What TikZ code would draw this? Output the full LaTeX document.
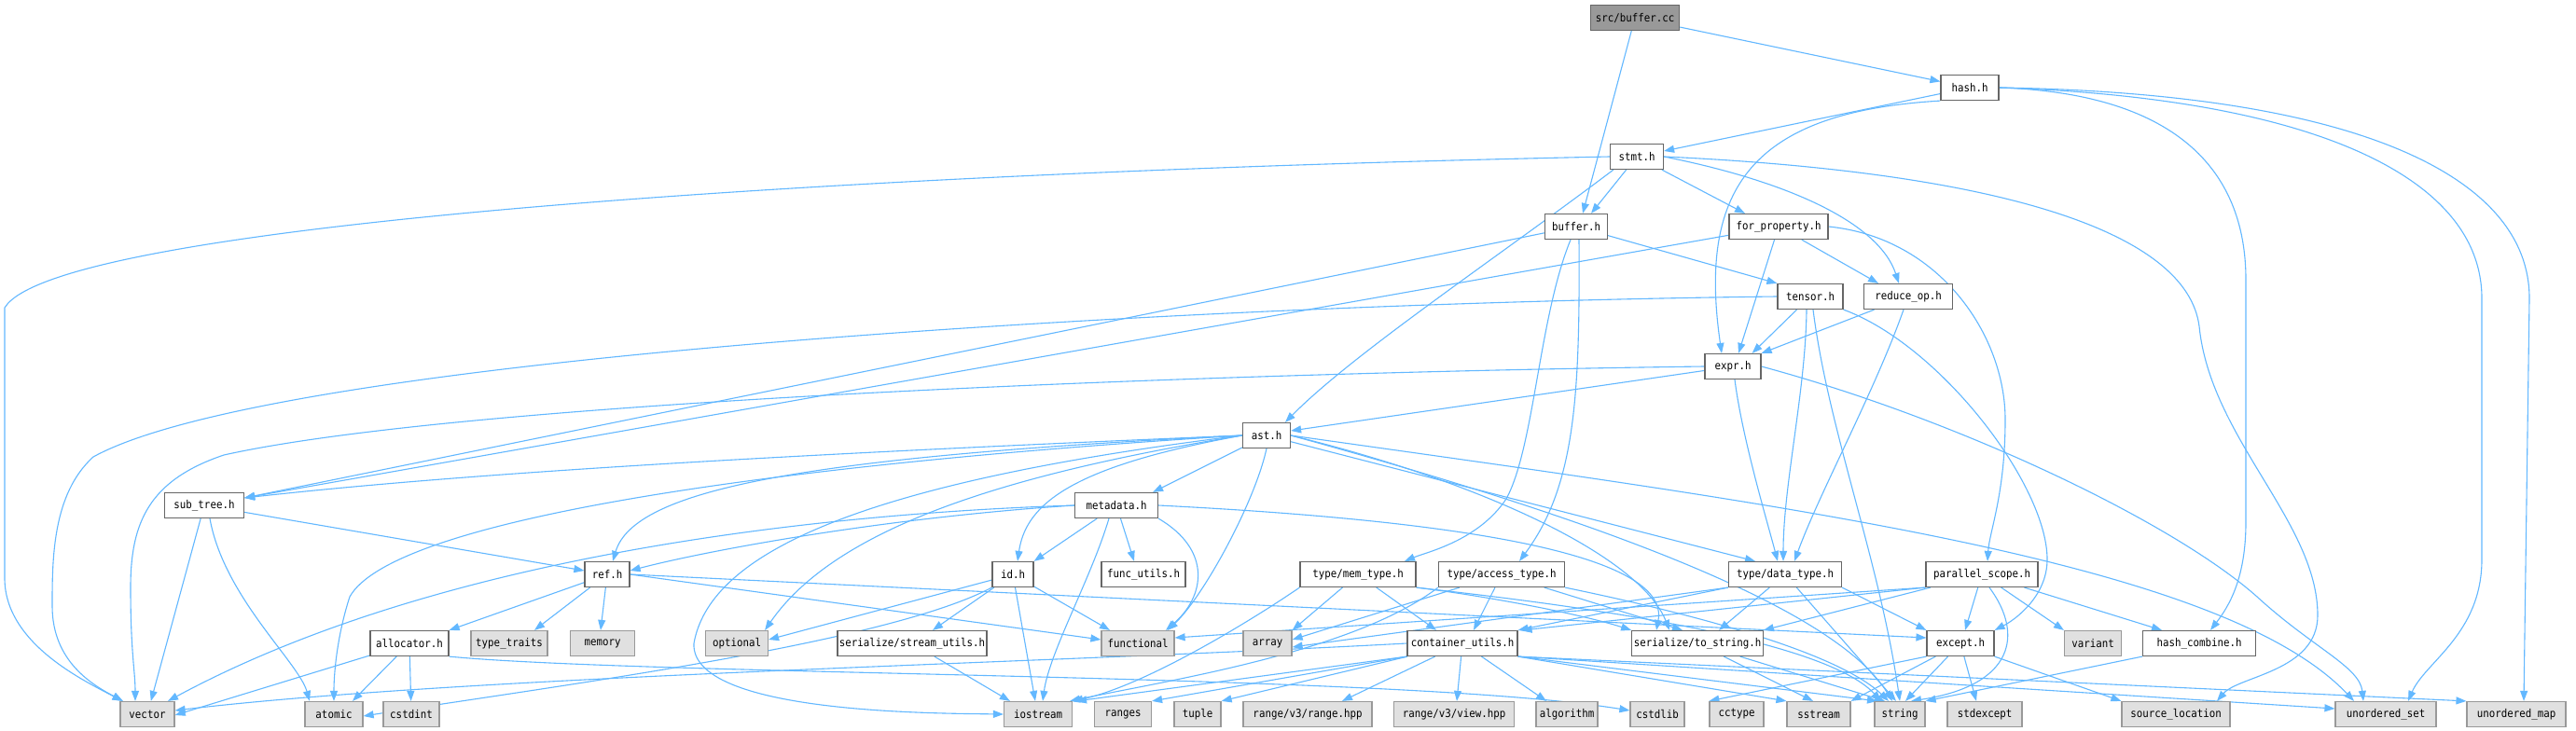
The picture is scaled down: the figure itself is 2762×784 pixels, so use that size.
\documentclass[tikz,border=0pt]{standalone}
\usepackage{fontspec}
\setmainfont{DejaVu Sans Mono}[FakeStretch=0.9]
\usetikzlibrary{arrows.meta}

\definecolor{edgeblue}{HTML}{63B8FF}
\definecolor{boxline}{HTML}{666666}
\definecolor{sysline}{HTML}{999999}
\definecolor{sysfill}{HTML}{E0E0E0}
\definecolor{srcfill}{HTML}{999999}

\pgfdeclarelayer{edgelayer}
\pgfsetlayers{edgelayer,main}

\begin{document}
\begin{tikzpicture}[
  x=1pt, y=-1pt,
  font=\fontsize{12}{14}\selectfont,
  box/.style={draw=boxline, fill=white, line width=1.2pt, minimum height=27pt, inner sep=2pt},
  sysbox/.style={box, draw=sysline, fill=sysfill},
  srcbox/.style={box, fill=srcfill},
  arr/.style={draw=edgeblue, line width=1.1pt, -{Triangle[length=11pt,width=8pt]}},
]
\useasboundingbox (0,0) rectangle (2762,784);

% headers of the project
\node[srcbox, minimum width=95pt]  (buffercc)   at (1753,19)  {src/buffer.cc};
\node[box, minimum width=62pt]     (hash)       at (2112,94)  {hash.h};
\node[box, minimum width=57pt]     (stmt)       at (1755,168) {stmt.h};
\node[box, minimum width=67pt]     (buffer)     at (1690,243) {buffer.h};
\node[box, minimum width=106pt]    (forprop)    at (1907,243) {for\_property.h};
\node[box, minimum width=70pt]     (tensor)     at (1941,318) {tensor.h};
\node[box, minimum width=95pt]     (reduceop)   at (2046,318) {reduce\_op.h};
\node[box, minimum width=60pt]     (expr)       at (1858,393) {expr.h};
\node[box, minimum width=51pt]     (ast)        at (1358,467) {ast.h};
\node[box, minimum width=85pt]     (subtree)    at (219,542)  {sub\_tree.h};
\node[box, minimum width=89pt]     (metadata)   at (1197,542) {metadata.h};
\node[box, minimum width=48pt]     (ref)        at (651,616)  {ref.h};
\node[box, minimum width=44pt]     (id)         at (1086,616) {id.h};
\node[box, minimum width=90pt]     (funcutils)  at (1226,616) {func\_utils.h};
\node[box, minimum width=124pt]    (memtype)    at (1456,616) {type/mem\_type.h};
\node[box, minimum width=135pt]    (accesstype) at (1610,616) {type/access\_type.h};
\node[box, minimum width=121pt]    (datatype)   at (1914,616) {type/data\_type.h};
\node[box, minimum width=120pt]    (parscope)   at (2125,616) {parallel\_scope.h};
\node[box, minimum width=84pt]     (allocator)  at (439,690)  {allocator.h};
\node[box, minimum width=156pt]    (streamutils) at (978,690) {serialize/stream\_utils.h};
\node[box, minimum width=118pt]    (contutils)  at (1568,690) {container\_utils.h};
\node[box, minimum width=136pt]    (tostring)   at (1820,690) {serialize/to\_string.h};
\node[box, minimum width=72pt]     (except)     at (2102,690) {except.h};
\node[box, minimum width=121pt]    (hashcomb)   at (2358,690) {hash\_combine.h};

% system headers
\node[sysbox, minimum width=82pt]  (typetraits) at (546,690)  {type\_traits};
\node[sysbox, minimum width=69pt]  (memory)     at (646,690)  {memory};
\node[sysbox, minimum width=67pt]  (optional)   at (790,690)  {optional};
\node[sysbox, minimum width=78pt]  (functional) at (1220,690) {functional};
\node[sysbox, minimum width=52pt]  (array)      at (1359,690) {array};
\node[sysbox, minimum width=61pt]  (variant)    at (2244,690) {variant};
\node[sysbox, minimum width=58pt]  (vector)     at (158,766)  {vector};
\node[sysbox, minimum width=62pt]  (atomic)     at (358,766)  {atomic};
\node[sysbox, minimum width=60pt]  (cstdint)    at (441,766)  {cstdint};
\node[sysbox, minimum width=73pt]  (iostream)   at (1113,766) {iostream};
\node[sysbox, minimum width=61pt]  (ranges)     at (1204,766) {ranges};
\node[sysbox, minimum width=50pt]  (tuple)      at (1284,766) {tuple};
\node[sysbox, minimum width=138pt] (rangehpp)   at (1402,766) {range/v3/range.hpp};
\node[sysbox, minimum width=129pt] (viewhpp)    at (1559,766) {range/v3/view.hpp};
\node[sysbox, minimum width=66pt]  (algorithm)  at (1680,766) {algorithm};
\node[sysbox, minimum width=58pt]  (cstdlib)    at (1777,766) {cstdlib};
\node[sysbox, minimum width=58pt]  (cctype)     at (1862,766) {cctype};
\node[sysbox, minimum width=68pt]  (sstream)    at (1950,766) {sstream};
\node[sysbox, minimum width=54pt]  (string)     at (2037,766) {string};
\node[sysbox, minimum width=80pt]  (stdexcept)  at (2128,766) {stdexcept};
\node[sysbox, minimum width=116pt] (sourceloc)  at (2333,766) {source\_location};
\node[sysbox, minimum width=108pt] (uset)       at (2558,766) {unordered\_set};
\node[sysbox, minimum width=106pt] (umap)       at (2698,766) {unordered\_map};

\begin{pgfonlayer}{edgelayer}
\fill[white] (0,0) rectangle (2762,784);

% src/buffer.cc
\draw[arr] (buffercc) -- ([xshift=7pt]buffer.north);
\draw[arr] (buffercc) -- (hash);

% hash.h
\draw[arr] (hash) -- (stmt);
\draw[arr] (hash.south west) .. controls (1880,120) and (1820,200) .. ([xshift=-12pt]expr.north);
\draw[arr] (hash.east) .. controls (2330,100) and (2408,180) .. (2408,300) -- (2408,560) .. controls (2408,620) and (2390,650) .. ([xshift=12pt]hashcomb.north);
\draw[arr] (hash.east) .. controls (2480,105) and (2661,190) .. (2661,320) -- (2661,600) .. controls (2661,680) and (2600,710) .. ([xshift=24pt]uset.north);
\draw[arr] (hash.east) .. controls (2530,100) and (2712,190) .. (2712,320) -- ([xshift=8pt]umap.north);

% stmt.h
\draw[arr] (stmt) -- ([xshift=16pt]buffer.north);
\draw[arr] (stmt) -- ([xshift=-36pt]forprop.north);
\draw[arr] (stmt.east) .. controls (1920,195) and (2015,240) .. ([xshift=-10pt]reduceop.north);
\draw[arr] ([xshift=4pt]stmt.south west) .. controls (1600,280) and (1450,380) .. ([xshift=20pt]ast.north);
\draw[arr] (stmt.west) .. controls (900,185) and (60,240) .. (5,330) -- (5,620) .. controls (5,690) and (90,730) .. ([xshift=3pt]vector.north west);
\draw[arr] (stmt.east) .. controls (2150,185) and (2345,250) .. (2358,350) .. controls (2370,470) and (2485,560) .. (2485,660) .. controls (2485,720) and (2400,725) .. ([xshift=44pt]sourceloc.north);

% buffer.h
\draw[arr] (buffer) -- (tensor.north west);
\draw[arr] ([xshift=-6pt]buffer.south) .. controls (1650,340) and (1645,480) .. (1615,535) .. controls (1585,580) and (1530,592) .. ([xshift=50pt]memtype.north);
\draw[arr] ([xshift=3pt]buffer.south) .. controls (1694,420) and (1690,520) .. ([xshift=19pt]accesstype.north);
\draw[arr] (buffer) -- ([yshift=8pt]subtree.east);

% for_property.h
\draw[arr] (forprop) -- ([xshift=6pt]expr.north);
\draw[arr] (forprop) -- ([xshift=-32pt]reduceop.north);
\draw[arr] (forprop.east) .. controls (2080,255) and (2150,360) .. (2150,450) .. controls (2150,530) and (2133,570) .. ([xshift=6pt]parscope.north);
\draw[arr] (forprop) -- ([yshift=8pt]subtree.east);

% tensor.h
\draw[arr] (tensor) -- ([xshift=-10pt]expr.north east);
\draw[arr] ([xshift=-4pt]tensor.south) .. controls (1936,420) and (1912,520) .. ([xshift=-2pt]datatype.north);
\draw[arr] (tensor.west) .. controls (1300,325) and (300,380) .. (100,490) .. controls (56,530) and (56,600) .. (56,650) .. controls (56,710) and (100,735) .. ([xshift=-26pt]vector.north);
\draw[arr] (tensor.south east) .. controls (2080,370) and (2195,520) .. (2195,600) .. controls (2195,640) and (2160,665) .. (except.north east);
\draw[arr] ([xshift=3pt]tensor.south) .. controls (1960,460) and (2015,600) .. (string.north);

% reduce_op.h
\draw[arr] (reduceop) -- (expr.north east);
\draw[arr] ([xshift=-5pt]reduceop.south) .. controls (2010,420) and (1950,530) .. ([xshift=10pt]datatype.north);

% expr.h
\draw[arr] (expr) -- ([yshift=5pt]ast.east);
\draw[arr] ([xshift=2pt]expr.south) .. controls (1868,470) and (1895,560) .. ([xshift=-8pt]datatype.north);
\draw[arr] (expr.west) .. controls (1300,400) and (500,430) .. (240,488) .. controls (160,515) and (140,560) .. (140,630) .. controls (140,700) and (145,720) .. ([xshift=-13pt]vector.north);
\draw[arr] (expr.east) .. controls (2100,450) and (2330,560) .. (2420,640) .. controls (2480,695) and (2530,715) .. ([xshift=-24pt]uset.north);

% ast.h
\draw[arr] (ast.west) .. controls (900,485) and (520,505) .. ([yshift=8pt]subtree.east);
\draw[arr] (ast) -- ([xshift=-6pt]metadata.north east);
\draw[arr] (ast.west) .. controls (860,490) and (680,525) .. ([xshift=6pt]ref.north);
\draw[arr] (ast.west) .. controls (1150,500) and (1100,540) .. ([xshift=5pt]id.north);
\draw[arr] (ast.south) .. controls (1345,540) and (1290,640) .. ([xshift=32pt]functional.north);
\draw[arr] (ast.west) .. controls (1100,505) and (900,560) .. ([xshift=-4pt]optional.north east);
\draw[arr] (ast.west) .. controls (800,500) and (420,560) .. (375,640) .. controls (362,680) and (358,720) .. (atomic.north);
\draw[arr] (ast.west) .. controls (900,520) and (760,600) .. (744,690) .. controls (740,765) and (1000,765) .. (iostream.west);
\draw[arr] (ast) -- ([xshift=-32pt]datatype.north);
\draw[arr] (ast.east) .. controls (1600,520) and (1760,600) .. ([xshift=-30pt]tostring.north);
\draw[arr] (ast.east) .. controls (1650,540) and (1960,640) .. ([xshift=-8pt]string.north);
\draw[arr] (ast.east) .. controls (1900,540) and (2380,600) .. ([xshift=-34pt]uset.north);

% metadata.h
\draw[arr] (metadata) -- (id.north east);
\draw[arr] (metadata) -- ([xshift=-10pt]funcutils.north);
\draw[arr] (metadata.south east) .. controls (1300,590) and (1292,640) .. ([xshift=30pt]functional.north);
\draw[arr] ([xshift=-8pt]metadata.south) .. controls (1170,620) and (1125,700) .. ([xshift=5pt]iostream.north);
\draw[arr] (metadata.west) .. controls (950,555) and (760,590) .. ([yshift=4pt]ref.east);
\draw[arr] (metadata.west) .. controls (900,550) and (480,590) .. ([xshift=22pt]vector.north);
\draw[arr] (metadata.east) .. controls (1600,560) and (1790,600) .. ([xshift=-44pt]tostring.north);

% sub_tree.h
\draw[arr] (subtree) -- ([yshift=4pt]ref.west);
\draw[arr] (subtree) -- (vector);
\draw[arr] ([xshift=6pt]subtree.south) .. controls (240,640) and (320,710) .. ([xshift=-26pt]atomic.north);

% ref.h
\draw[arr] (ref) -- (allocator.north east);
\draw[arr] (ref) -- ([xshift=27pt]typetraits.north);
\draw[arr] (ref) -- ([xshift=-2pt]memory.north);
\draw[arr] (ref.east) -- ([yshift=4pt]functional.west);
\draw[arr] (ref.east) -- ([yshift=6pt]except.west);

% id.h
\draw[arr] (id) -- ([yshift=4pt]optional.east);
\draw[arr] (id) -- ([xshift=22pt]streamutils.north);
\draw[arr] (id) -- ([xshift=-3pt]iostream.north);
\draw[arr] (id) -- ([xshift=-30pt]functional.north);
\draw[arr] (id.south west) .. controls (950,690) and (600,735) .. ([yshift=-2pt]atomic.east);

% allocator.h
\draw[arr] (allocator) -- ([yshift=-1pt]vector.east);
\draw[arr] (allocator) -- ([xshift=20pt]atomic.north);
\draw[arr] (allocator) -- (cstdint);
\draw[arr] (allocator.south east) .. controls (700,725) and (1500,722) .. ([yshift=4pt]cstdlib.west);

% serialize/stream_utils.h
\draw[arr] (streamutils) -- ([xshift=7pt]iostream.north west);

% type/mem_type.h
\draw[arr] (memtype) -- (array.north east);
\draw[arr] (memtype.south west) .. controls (1350,660) and (1230,735) .. (iostream.north east);
\draw[arr] (memtype) -- ([xshift=-28pt]contutils.north);
\draw[arr] (memtype.south east) .. controls (1600,640) and (1700,660) .. (tostring.north west);
\draw[arr] (memtype.south east) .. controls (1650,645) and (1950,680) .. ([xshift=-20pt]string.north);

% type/access_type.h
\draw[arr] (accesstype) -- ([yshift=4pt]array.east);
\draw[arr] (accesstype.south west) .. controls (1450,700) and (1250,730) .. ([xshift=-3pt]iostream.north east);
\draw[arr] (accesstype) -- ([xshift=12pt]contutils.north);
\draw[arr] (accesstype) -- ([xshift=-16pt]tostring.north);
\draw[arr] (accesstype.south east) .. controls (1750,645) and (1960,690) .. ([xshift=-12pt]string.north);

% type/data_type.h
\draw[arr] (datatype.south west) -- ([yshift=-4pt]array.east);
\draw[arr] (datatype.south west) -- (contutils.north east);
\draw[arr] (datatype) -- ([xshift=23pt]tostring.north);
\draw[arr] (datatype.south east) -- (except.north west);
\draw[arr] (datatype) -- ([xshift=-4pt]string.north);

% parallel_scope.h
\draw[arr] (parscope.south west) -- ([yshift=6pt]functional.east);
\draw[arr] (parscope.south west) -- ([xshift=4pt]contutils.north east);
\draw[arr] (parscope) -- (tostring.north east);
\draw[arr] (parscope) -- ([xshift=5pt]except.north);
\draw[arr] (parscope) -- (variant.north west);
\draw[arr] (parscope) -- ([xshift=-40pt]hashcomb.north);
\draw[arr] ([xshift=8pt]parscope.south) .. controls (2170,680) and (2160,735) .. ([xshift=12pt]string.north);

% container_utils.h
\draw[arr] (contutils.south west) -- ([xshift=4pt]iostream.north east);
\draw[arr] (contutils.south west) -- (ranges.north east);
\draw[arr] (contutils) -- (tuple.north east);
\draw[arr] (contutils) -- ([xshift=37pt]rangehpp.north);
\draw[arr] (contutils) -- ([xshift=3pt]viewhpp.north);
\draw[arr] (contutils) -- ([xshift=-22pt]algorithm.north);
\draw[arr] (contutils.south east) -- (sstream.north west);
\draw[arr] (contutils.south east) -- ([xshift=-24pt]string.north);
\draw[arr] (contutils.south east) -- ([yshift=6pt]uset.west);
\draw[arr] (contutils.south east) -- (umap.north west);
\draw[arr] (contutils.west) .. controls (1100,712) and (500,725) .. ([yshift=4pt]vector.east);

% serialize/to_string.h
\draw[arr] (tostring) -- ([xshift=-6pt]sstream.north);
\draw[arr] (tostring) -- ([xshift=-16pt]string.north);

% except.h
\draw[arr] (except.south west) -- (cctype.north west);
\draw[arr] (except) -- (sstream.north east);
\draw[arr] (except) -- ([xshift=6pt]string.north);
\draw[arr] (except) -- ([xshift=-9pt]stdexcept.north);
\draw[arr] (except.south east) -- (sourceloc.north west);

% hash_combine.h
\draw[arr] (hashcomb.south west) -- (string.north east);
\end{pgfonlayer}
\end{tikzpicture}
\end{document}
